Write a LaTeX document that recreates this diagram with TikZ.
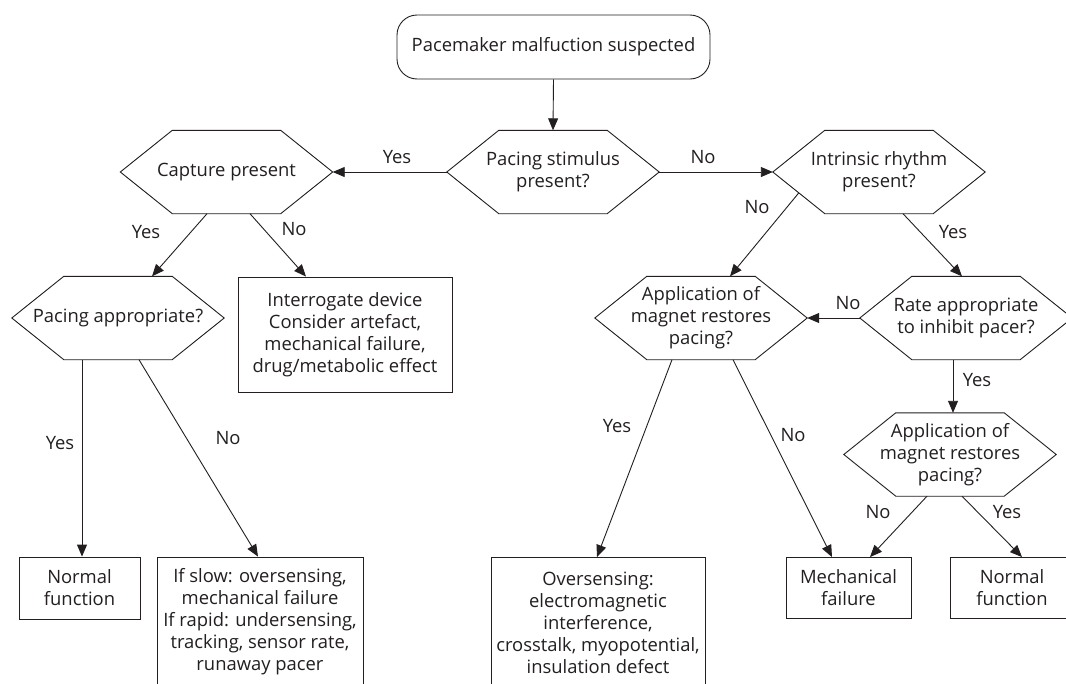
\documentclass[tikz,border=0pt]{standalone}
\usepackage{fontspec}
\setmainfont{Open Sans}
\usetikzlibrary{arrows.meta,calc}
\definecolor{ink}{HTML}{231F20}
\begin{document}
\begin{tikzpicture}[x=1pt,y=-1pt,
  every node/.style={font=\fontsize{18.4}{22}\selectfont, text=ink},
  line/.style={draw=ink, line width=0.9pt},
  arr/.style={line, -{Triangle[length=12pt,width=10pt]}},
  hexbox/.style={minimum width=212pt, minimum height=83pt, inner sep=0pt, align=center},
  termbox/.style={line, rounded corners=20pt, minimum width=313pt, minimum height=64pt, inner sep=0pt},
  endbox/.style={line, inner sep=0pt, align=center},
  lbl/.style={inner sep=0pt}
]
\useasboundingbox (0,0) rectangle (1066,683);
\fill[white] (0,0) rectangle (1066,683);

% start
\node[termbox] (S) at (553.5,47) {Pacemaker malfuction suspected};

% hexagons (decision)
\node[hexbox] (P)  at (553,172)   {Pacing stimulus\\present?};
\node[hexbox] (C)  at (226.5,172) {Capture present};
\node[hexbox] (I)  at (879,172)   {Intrinsic rhythm\\present?};
\node[hexbox] (PA) at (118,318)   {Pacing appropriate?};
\node[hexbox] (A1) at (701,318)   {Application of\\magnet restores\\pacing?};
\node[hexbox] (R)  at (966,318)   {Rate appropriate\\to inhibit pacer?};
\node[hexbox] (A2) at (950,454.5) {Application of\\magnet restores\\pacing?};

\foreach \n in {P,C,I,PA,A1,R,A2}
  \draw[line] ([xshift=52pt]\n.north west) -- ([xshift=-52pt]\n.north east) -- (\n.east)
    -- ([xshift=-52pt]\n.south east) -- ([xshift=52pt]\n.south west) -- (\n.west) -- cycle;

% outcome boxes
\node[endbox, minimum width=214pt, minimum height=115pt] (IG) at (345,334.5)
  {Interrogate device\\Consider artefact,\\mechanical failure,\\drug/metabolic effect};
\node[endbox, minimum width=121pt, minimum height=62pt] (N1) at (79.5,588) {Normal\\function};
\node[endbox, minimum width=206pt, minimum height=130pt] (IS) at (260,622)
  {If slow: oversensing,\\mechanical failure\\If rapid: undersensing,\\tracking, sensor rate,\\runaway pacer};
\node[endbox, minimum width=214pt, minimum height=130pt] (OS) at (598,622.5)
  {Oversensing:\\electromagnetic\\interference,\\crosstalk, myopotential,\\insulation defect};
\node[endbox, minimum width=125pt, minimum height=61pt] (M) at (848.5,588) {Mechanical\\failure};
\node[endbox, minimum width=124pt, minimum height=61pt] (N2) at (1012,588) {Normal\\function};

% connectors
\draw[arr] (S.south) -- (P.north);
\draw[arr] (P.west) -- (C.east);
\draw[arr] (P.east) -- (I.west);
\draw[arr] ($(C.south)+(-19.5,0)$) -- ($(PA.north)+(34,0)$);
\draw[arr] ($(C.south)+(23.5,0)$) -- ($(IG.north)+(-39,0)$);
\draw[arr] ($(PA.south)+(-36,0)$) -- ($(N1.north)+(2.5,0)$);
\draw[arr] ($(PA.south)+(21,0)$) -- ($(IS.north)+(-2,0)$);
\draw[arr] ($(I.west)!0.5!([xshift=52pt]I.south west)$) -- ($(A1.north)+(29,0)$);
\draw[arr] ($(I.south)+(24,0)$) -- ($(R.north)+(-4,0)$);
\draw[arr] (R.west) -- (A1.east);
\draw[arr] ($(R.south)+(-13,0)$) -- ($(A2.north)+(3,0)$);
\draw[arr] ($(A1.south)+(-29,0)$) -- ($(OS.north)+(-1,0)$);
\draw[arr] ($(A1.south)+(32,0)$) -- ($(M.north)+(-16.5,0)$);
\draw[arr] ($(A2.south)+(-23,0)$) -- ($(M.north)+(21.5,0)$);
\draw[arr] ($(A2.south)+(12,0)$) -- ($(N2.north)+(10,0)$);

% labels
\node[lbl] (l1) at (397,157) {Yes};
\node[lbl] (l2) at (703,157) {No};
\node[lbl] (l3) at (146,232) {Yes};
\node[lbl] (l4) at (294,229) {No};
\node[lbl] (l5) at (60,443) {Yes};
\node[lbl] (l6) at (228,438) {No};
\node[lbl] (l7) at (757,207) {No};
\node[lbl] (l8) at (953,232) {Yes};
\node[lbl] (l9) at (848,303) {No};
\node[lbl] (l10) at (977,380) {Yes};
\node[lbl] (l11) at (617,426) {Yes};
\node[lbl] (l12) at (793,435) {No};
\node[lbl] (l13) at (878,512) {No};
\node[lbl] (l14) at (1007,512) {Yes};
\end{tikzpicture}
\end{document}
